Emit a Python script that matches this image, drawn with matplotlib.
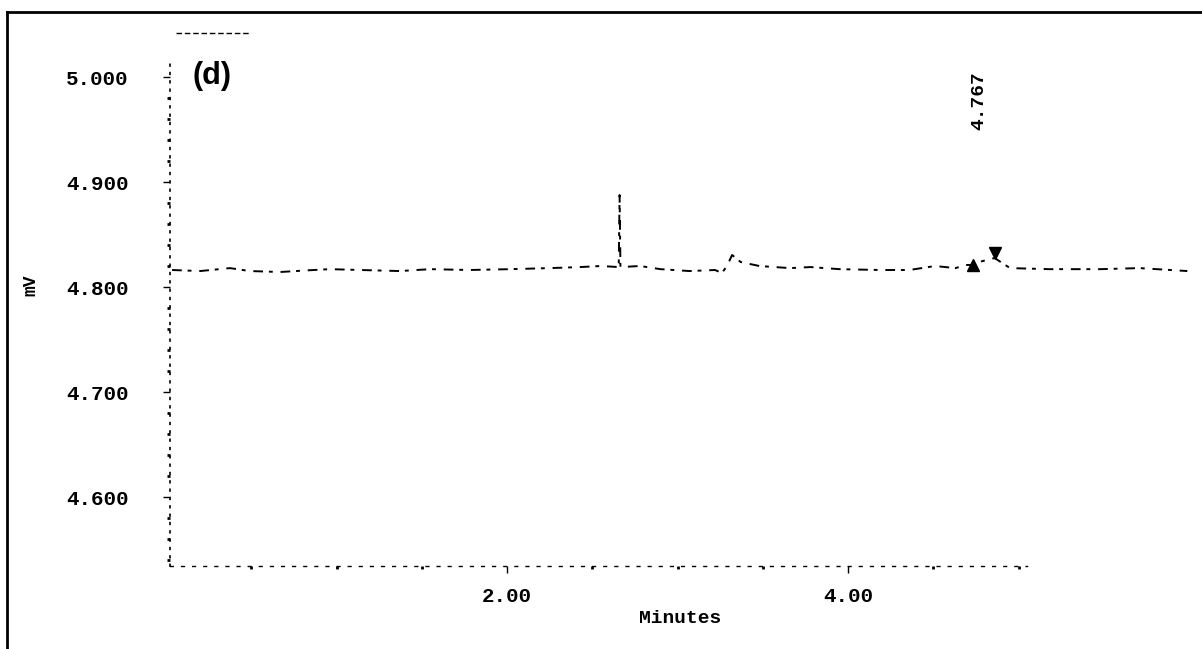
import numpy as np
import matplotlib
matplotlib.use("Agg")
import matplotlib.pyplot as plt
from matplotlib.lines import Line2D
from matplotlib.ticker import MultipleLocator, FixedLocator

# chromatogram trace (minutes, mV)
tiempo = [0.035, 0.20, 0.375, 0.49, 0.67, 0.845, 0.96, 1.14, 1.37, 1.55,
          1.78, 2.02, 2.25, 2.43, 2.55, 2.655, 2.66, 2.665, 2.78, 2.90,
          3.07, 3.22, 3.26, 3.29, 3.32, 3.37, 3.48, 3.66, 3.78, 3.95,
          4.19, 4.36, 4.51, 4.63, 4.69, 4.73, 4.767, 4.86, 4.95, 5.18,
          5.48, 5.71, 5.99]
senal = [4.8162, 4.8152, 4.8180, 4.8152, 4.8143, 4.8160, 4.8170, 4.8162, 4.8152, 4.8170,
         4.8162, 4.8170, 4.8180, 4.8190, 4.8200, 4.8190, 4.8876, 4.8190, 4.8200, 4.8170,
         4.8152, 4.8162, 4.8133, 4.8200, 4.8305, 4.8238, 4.8200, 4.8180, 4.8190, 4.8170,
         4.8162, 4.8162, 4.8200, 4.8180, 4.8210, 4.8210, 4.8238, 4.8276, 4.8180, 4.8170,
         4.8170, 4.8180, 4.8152]

# integration marks: start / end of the peak
inicio_pico = (4.73, 4.8210)
fin_pico = (4.86, 4.8324)
tiempo_pico = 4.767
etiqueta_pico = "4.767"

yticks = [4.600, 4.700, 4.800, 4.900, 5.000]
xticks = [2.0, 4.0]
xminor = [0.5, 1.0, 1.5, 2.5, 3.0, 3.5, 4.5, 5.0]

fig = plt.figure(figsize=(12.02, 6.49), dpi=100)
ax = fig.add_axes([170/1202, 1-566/649, 1025/1202, 508/649])

ax.plot(tiempo, senal, color="black", lw=1.4, ls=(0, (5, 3, 2, 4)))
ax.plot(*inicio_pico, marker="^", color="black", ms=8, ls="none")
ax.plot(*fin_pico, marker="v", color="black", ms=8, ls="none")
ax.text(tiempo_pico, 4.9495, etiqueta_pico, rotation=90, ha="center", va="bottom",
        family="Liberation Mono", fontweight="bold", fontsize=14)

ax.set_xlim(0.023, 6.035)
ax.set_ylim(4.5343, 5.0181)

ax.spines["top"].set_visible(False)
ax.spines["right"].set_visible(False)
ax.spines["left"].set_linestyle((0, (1, 4)))
ax.spines["left"].set_linewidth(1.2)
ax.spines["bottom"].set_linestyle((0, (2, 6)))
ax.spines["bottom"].set_linewidth(1.0)
ax.spines["bottom"].set_bounds(0.023, 5.05)

ax.yaxis.set_major_locator(FixedLocator(yticks))
ax.yaxis.set_minor_locator(MultipleLocator(0.02))
ax.xaxis.set_major_locator(FixedLocator(xticks))
ax.xaxis.set_minor_locator(FixedLocator(xminor))
ax.set_yticklabels([f"{v:.3f}" for v in yticks])
ax.set_xticklabels([f"{v:.2f}" for v in xticks])

ax.tick_params(axis="y", which="major", direction="out", length=5, width=1, pad=25)
ax.tick_params(axis="x", which="major", direction="out", length=5, width=1, pad=10)
ax.tick_params(which="minor", direction="out", length=2, width=2)
for lab in ax.get_xticklabels() + ax.get_yticklabels():
    lab.set_family("Liberation Mono")
    lab.set_fontweight("bold")
    lab.set_fontsize(15)

ax.set_xlabel("Minutes", family="Liberation Mono", fontweight="bold", fontsize=14)
ax.set_ylabel("mV", family="Liberation Mono", fontweight="bold", fontsize=13)
ax.xaxis.set_label_coords(0.4976, -0.104)
ax.yaxis.set_label_coords(-0.127, 0.553)
ax.xaxis.label.set_va("center")

ax.text(192/1202, 1-76/649, "(d)", transform=fig.transFigure, family="Liberation Sans",
        fontweight="bold", fontsize=22, va="center", ha="left")

# page frame
fig.add_artist(Line2D([7/1202, 1.0], [1-12/649, 1-12/649], color="black", lw=2,
                      transform=fig.transFigure))
fig.add_artist(Line2D([7/1202, 7/1202], [0.0, 1-12/649], color="black", lw=2,
                      transform=fig.transFigure))
fig.add_artist(Line2D([176/1202, 250/1202], [1-33/649, 1-33/649], color="black", lw=1,
                      ls=(0, (4, 2)), transform=fig.transFigure))

fig.savefig("out.png", dpi=100)
